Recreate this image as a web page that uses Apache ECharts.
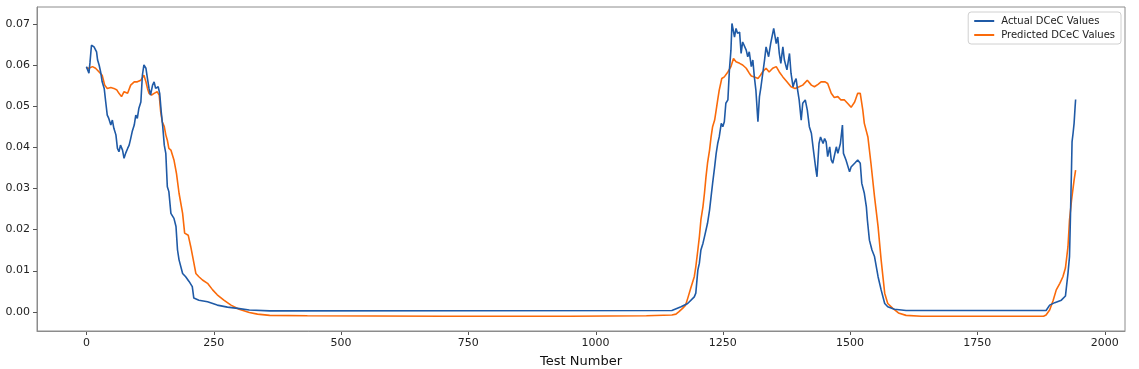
<!DOCTYPE html>
<html>
<head>
<meta charset="utf-8">
<script src="https://cdn.jsdelivr.net/npm/echarts@6/dist/echarts.min.js"></script>
<style>
html,body{margin:0;padding:0;background:#fff;}
#chart{width:1139px;height:369px;}
</style>
</head>
<body>
<div id="chart"></div>
<script>
const seriesNames = ['Actual DCeC Values', 'Predicted DCeC Values'];
const xTicks = [0, 250, 500, 750, 1000, 1250, 1500, 1750, 2000];
const yTicks = [0, 0.01, 0.02, 0.03, 0.04, 0.05, 0.06, 0.07];
const xTitle = 'Test Number';

const actual = [[0,0.0596],[3,0.0600],[5,0.058],[7,0.0605],[10,0.0648],[15,0.0644],[18,0.064],[20,0.0632],[22,0.0612],[25,0.060],[28,0.0583],[31,0.0559],[35,0.0543],[38,0.051],[41,0.0478],[44,0.0470],[48,0.0454],[51,0.0466],[54,0.0446],[58,0.043],[61,0.0397],[64,0.0389],[67,0.0405],[71,0.0393],[74,0.0373],[77,0.0385],[81,0.0397],[84,0.0405],[87,0.0421],[90,0.0438],[94,0.0454],[97,0.0478],[100,0.047],[103,0.0494],[107,0.051],[110,0.0575],[113,0.060],[117,0.0592],[120,0.0567],[123,0.0543],[126,0.0527],[130,0.0551],[133,0.0559],[136,0.0543],[141,0.0547],[144,0.0531],[147,0.0486],[150,0.045],[153,0.0405],[156,0.0385],[159,0.0304],[162,0.0292],[166,0.0239],[172,0.0227],[176,0.0207],[179,0.015],[182,0.0126],[189,0.0093],[195,0.0085],[202,0.0073],[208,0.0061],[211,0.0033],[221,0.0028],[238,0.0024],[257,0.0016],[277,0.0011],[297,0.0008],[320,0.0004],[360,0.0002],[1150,0.0003],[1168,0.0012],[1181,0.002],[1194,0.0036],[1197,0.0045],[1201,0.0101],[1204,0.0118],[1207,0.015],[1211,0.0166],[1214,0.0182],[1220,0.0215],[1224,0.0247],[1227,0.028],[1230,0.0312],[1234,0.0352],[1237,0.0385],[1240,0.0409],[1243,0.0425],[1247,0.0458],[1250,0.045],[1253,0.0462],[1256,0.0507],[1260,0.0515],[1263,0.0588],[1266,0.0636],[1268,0.0701],[1271,0.0705],[1273,0.0668],[1276,0.0689],[1279,0.0677],[1283,0.068],[1286,0.0628],[1289,0.0656],[1292,0.066],[1296,0.0636],[1299,0.062],[1302,0.0632],[1306,0.0596],[1309,0.0612],[1312,0.0571],[1315,0.0539],[1319,0.0462],[1322,0.0523],[1325,0.0547],[1332,0.0612],[1335,0.0644],[1340,0.062],[1344,0.0652],[1350,0.0689],[1355,0.0652],[1358,0.0668],[1361,0.0628],[1364,0.0604],[1368,0.0644],[1371,0.0612],[1376,0.0588],[1381,0.0628],[1384,0.058],[1388,0.0547],[1391,0.0559],[1394,0.0567],[1397,0.0539],[1400,0.0515],[1404,0.0466],[1407,0.0507],[1412,0.0515],[1416,0.049],[1420,0.045],[1424,0.0434],[1428,0.0393],[1433,0.0344],[1435,0.0328],[1439,0.0409],[1442,0.0425],[1447,0.0409],[1450,0.0421],[1453,0.0413],[1456,0.0377],[1460,0.0401],[1463,0.0369],[1466,0.0361],[1473,0.0401],[1476,0.0385],[1481,0.0409],[1485,0.0454],[1487,0.0385],[1492,0.0369],[1499,0.034],[1502,0.0352],[1509,0.0361],[1515,0.0369],[1520,0.0361],[1523,0.0312],[1528,0.0288],[1532,0.0255],[1534,0.0223],[1538,0.0174],[1543,0.015],[1548,0.0134],[1555,0.0085],[1561,0.0053],[1568,0.002],[1574,0.0012],[1587,0.0006],[1610,0.0003],[1885,0.0003],[1892,0.0016],[1902,0.0022],[1915,0.0028],[1923,0.0038],[1928,0.0093],[1931,0.0134],[1933,0.0239],[1935,0.0352],[1936,0.0413],[1938,0.0434],[1940,0.0458],[1942,0.0498],[1943,0.0516]];

const predicted = [[0,0.0593],[5,0.0592],[12,0.0596],[18,0.0592],[25,0.0583],[31,0.0575],[36,0.0551],[41,0.0543],[48,0.0545],[54,0.0543],[60,0.0539],[64,0.0531],[69,0.0523],[74,0.0535],[81,0.0531],[87,0.0551],[94,0.0559],[100,0.0559],[107,0.0563],[113,0.0575],[117,0.0559],[120,0.0543],[123,0.0531],[128,0.0527],[133,0.0531],[139,0.0535],[143,0.0527],[146,0.0486],[149,0.0462],[153,0.045],[156,0.043],[159,0.0417],[162,0.0397],[166,0.0393],[172,0.0369],[177,0.0336],[182,0.0288],[189,0.0239],[193,0.0191],[200,0.0186],[205,0.0158],[210,0.0126],[215,0.0093],[221,0.0085],[228,0.0077],[238,0.0069],[248,0.0053],[257,0.0041],[270,0.0028],[284,0.0016],[300,0.0006],[320,-0.0002],[336,-0.0006],[360,-0.0009],[434,-0.001],[700,-0.0011],[950,-0.0011],[1100,-0.001],[1150,-0.0008],[1158,-0.0006],[1164,0],[1171,0.0008],[1177,0.0016],[1182,0.0036],[1187,0.0057],[1194,0.0085],[1197,0.0109],[1201,0.015],[1204,0.0182],[1207,0.0223],[1211,0.0255],[1214,0.0288],[1217,0.0328],[1220,0.0361],[1224,0.0393],[1227,0.0425],[1230,0.045],[1234,0.0466],[1237,0.049],[1240,0.0515],[1243,0.0539],[1248,0.0567],[1253,0.0571],[1260,0.0583],[1266,0.0596],[1271,0.0616],[1276,0.0608],[1283,0.0604],[1289,0.06],[1296,0.0592],[1302,0.058],[1306,0.0573],[1312,0.0571],[1319,0.0567],[1324,0.0575],[1328,0.0583],[1335,0.0592],[1341,0.0583],[1348,0.0592],[1355,0.0596],[1361,0.0583],[1368,0.0571],[1376,0.0559],[1384,0.0547],[1392,0.0543],[1400,0.0547],[1407,0.0551],[1416,0.0563],[1424,0.0551],[1430,0.0547],[1437,0.0553],[1443,0.0559],[1451,0.0559],[1456,0.0555],[1463,0.0531],[1469,0.0521],[1476,0.0523],[1482,0.0515],[1489,0.0515],[1495,0.0507],[1502,0.0497],[1509,0.051],[1515,0.0531],[1520,0.0531],[1525,0.049],[1528,0.0458],[1535,0.0425],[1541,0.0361],[1548,0.028],[1555,0.0207],[1561,0.0126],[1568,0.0045],[1574,0.002],[1584,0.0008],[1595,-0.0003],[1610,-0.0009],[1640,-0.0011],[1880,-0.0011],[1885,-0.0008],[1892,0.0004],[1899,0.0028],[1905,0.0053],[1912,0.0069],[1918,0.0085],[1923,0.0106],[1928,0.0158],[1931,0.0223],[1935,0.0271],[1940,0.032],[1943,0.0344]];

const colors = ['#1f5aa6', '#fa6a0a'];
const font = 'DejaVu Sans';
const frame = '#8c8c8c';
const xMin = -97, xMax = 2040, yMin = -0.0047, yMax = 0.0741;

const chart = echarts.init(document.getElementById('chart'), null, {renderer: 'canvas'});
chart.setOption({
  animation: false,
  backgroundColor: '#fff',
  grid: {left: 37, right: 14, top: 7, bottom: 38, outerBoundsMode: 'none', containLabel: false, show: true, borderColor: frame, borderWidth: 1, backgroundColor: 'transparent'},
  legend: {
    orient: 'vertical', right: 18, top: 12,
    data: seriesNames,
    icon: 'rect', itemWidth: 20, itemHeight: 2, itemGap: 4,
    padding: [4, 6, 4, 6],
    borderColor: '#d0d0d0', borderWidth: 1, borderRadius: 3,
    textStyle: {fontFamily: font, fontSize: 10, color: '#222', padding: [0, 0, 0, 2]}
  },
  xAxis: {
    type: 'value', min: xMin, max: xMax,
    name: xTitle, nameLocation: 'middle', nameGap: 24,
    nameTextStyle: {fontFamily: font, fontSize: 13, color: '#111'},
    splitLine: {show: false},
    axisLine: {show: true, onZero: false, lineStyle: {color: frame, width: 1}},
    axisTick: {show: false},
    axisLabel: {fontFamily: font, fontSize: 11, color: '#222', margin: 7, customValues: xTicks, formatter: v => String(v)}
  },
  yAxis: {
    type: 'value', min: yMin, max: yMax,
    splitLine: {show: false},
    axisLine: {show: true, onZero: false, lineStyle: {color: frame, width: 1}},
    axisTick: {show: false},
    axisLabel: {fontFamily: font, fontSize: 11, color: '#222', margin: 7, customValues: yTicks, formatter: v => v.toFixed(2)}
  },
  series: [
    {name: seriesNames[0], type: 'line', data: actual, showSymbol: false, symbol: 'none', color: colors[0], lineStyle: {width: 1.6, color: colors[0]}, z: 3},
    {name: seriesNames[1], type: 'line', data: predicted, showSymbol: false, symbol: 'none', color: colors[1], lineStyle: {width: 1.6, color: colors[1]}, z: 2}
  ]
});

// Axis tick marks, positioned through the chart's own scales
const tickLen = 4;
const tickStyle = {stroke: '#555', lineWidth: 1};
const bottomY = chart.convertToPixel({yAxisIndex: 0}, yMin);
const leftX = chart.convertToPixel({xAxisIndex: 0}, xMin);
const tickGraphics = [];
xTicks.forEach(v => {
  const px = Math.round(chart.convertToPixel({xAxisIndex: 0}, v)) + 0.5;
  tickGraphics.push({type: 'line', silent: true, shape: {x1: px, y1: bottomY, x2: px, y2: bottomY + tickLen}, style: tickStyle});
});
yTicks.forEach(v => {
  const py = Math.round(chart.convertToPixel({yAxisIndex: 0}, v)) + 0.5;
  tickGraphics.push({type: 'line', silent: true, shape: {x1: leftX - tickLen, y1: py, x2: leftX, y2: py}, style: tickStyle});
});
chart.setOption({graphic: tickGraphics});
</script>
</body>
</html>
